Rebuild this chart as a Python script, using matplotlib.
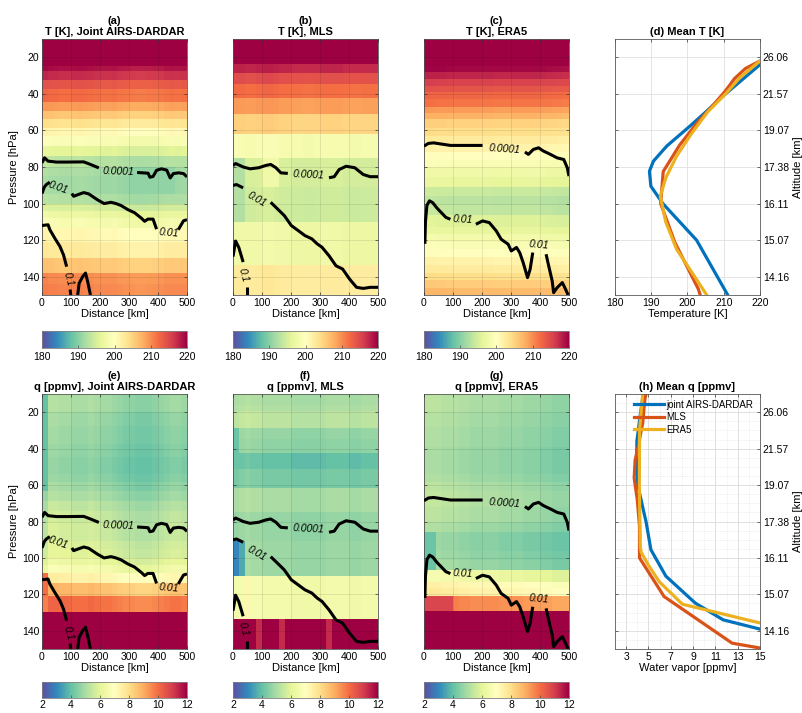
import numpy as np
import matplotlib
matplotlib.use("Agg")
import matplotlib.pyplot as plt
from matplotlib.ticker import MultipleLocator

plt.rcParams['font.family'] = ['Liberation Sans', 'DejaVu Sans']

# ---------------- data ----------------
distance_edges = list(range(0, 501, 20))          # km bins
pressure_ticks = [20, 40, 60, 80, 100, 120, 140]
altitude_labels = ['26.06', '21.57', '19.07', '17.38', '16.11', '15.07', '14.16']
T_cbar_ticks = [180, 190, 200, 210, 220]
q_cbar_ticks = [2, 4, 6, 8, 10, 12]

# Joint AIRS-DARDAR grid (hPa edges)
ad_p_edges = [10, 15, 20, 24.5, 27.5, 32.5, 37.5, 44.5, 49.5, 54, 58.5, 63, 68.5, 74,
              80, 85, 90.5, 95, 100, 104, 108, 113.5, 121, 129.5, 138, 144, 150]
ad_T_rows = [226, 224, 221.5, 219, 217, 214, 212, 209, 206, 203.5, 201, 199, 196,
             193, 192, 191.5, 191.5, 192.5, 195, 197, 198.5, 201, 202.5, 206, 210, 210.5]
ad_q_rows = [5.0, 5.0, 4.8, 4.8, 4.7, 4.7, 4.6, 4.5, 4.5, 4.6, 4.8, 5.0, 5.3,
             5.5, 5.6, 5.6, 5.8, 5.9, 6.2, 6.6, 7.4, 8.7, 10.0, 12.5, 14, 15]
ad_T_cols = [0.5, 0.3, 0.2, 0, 0, 0.2, 0.3, 0.1, 0, -0.2, -0.3, -0.3, -0.2, -0.5, -0.7,
             -0.9, -1.0, -1.0, -0.9, -0.8, -0.6, -0.3, -0.2, -0.3, -0.2]
ad_q_cols = [-0.3, 0.2, 0.2, 0.1, 0.1, 0, 0, 0, 0.1, 0, -0.1, -0.1, -0.2, -0.3, -0.4,
             -0.4, -0.5, -0.5, -0.5, -0.4, -0.3, -0.2, -0.1, -0.1, -0.2]
ad_T_patches = [(300, 460, 80, 95, 190.5)]
ad_q_patches = [(0, 20, 10, 63, 4.0), (0, 20, 108, 121, 10.0)]

# MLS levels (hPa)
mls_levels = [10, 12.1, 14.7, 17.8, 21.5, 26.1, 31.6, 38.3, 46.4, 56.2, 68.1, 82.5, 100, 121.2, 146.8]
mls_T_rows = [230, 228, 226, 223, 220.5, 217.5, 214.5, 212, 209, 205, 198.5, 195, 194.5, 197.5, 202.5]
mls_q_rows = [5.0, 5.0, 5.0, 5.1, 5.3, 5.3, 4.7, 4.6, 4.0, 4.3, 5.0, 4.7, 4.8, 6.5, 14]
mls_T_cols = [0.3, 0.2, 0, 0, 0.3, 0.5, 0.5, 0.3, 0, 0, -0.2, -0.2, -0.3, -0.3, -0.2,
              0, 0, 0, 0, -0.2, -0.3, -0.3, -0.2, -0.2, -0.2]
mls_q_cols = [0, 0.1, 0.2, 0.1, 0.1, 0, 0, 0, 0, 0, -0.1, -0.1, -0.1, -0.1, -0.1,
              -0.1, 0, 0, 0, 0, -0.1, -0.1, 0, 0, 0]
mls_T_patches = [(0, 40, 75, 110, 192.5), (100, 160, 75, 91, 197.5)]
mls_q_patches = [(0, 20, 91, 110, 3.0), (20, 40, 91, 110, 3.6), (0, 20, 28, 51, 4.1),
                 (40, 60, 110, 134, 7.3), (80, 100, 134, 150, 11.3),
                 (160, 180, 134, 150, 11.3), (320, 340, 134, 150, 11.3)]

# ERA5 grid (hPa edges)
era_p_edges = [10, 15, 20, 25, 28, 32, 35.5, 39, 43, 47, 50.5, 54, 58.5, 63, 67.5, 72, 76,
               80, 85.5, 91, 96, 101, 106.5, 113, 116.5, 121, 125, 129, 133.5, 138, 142, 146, 150]
era_T_rows = [226, 224, 221.5, 219.5, 217.5, 215.5, 214, 212.5, 211.5, 209, 207.5, 205, 204,
              202.5, 201.5, 200, 199, 197.5, 196.5, 194, 193, 193.5, 195.5, 196.5, 198, 199,
              200, 201.5, 202.5, 204, 205.5, 207]
era_q_rows = [5.0, 5.0, 4.9, 4.9, 4.8, 4.8, 4.8, 4.7, 4.7, 4.7, 4.7, 4.8, 5.0, 5.1, 5.1, 5.0,
              5.0, 4.8, 4.5, 4.5, 4.6, 4.7, 6.3, 7.2, 7.4, 9.5, 9.5, 13, 14, 14, 15, 15]
era_T_cols = [0.3, 0.3, 0.2, 0.2, 0.1, 0, 0, 0, 0, 0, 0, 0, -0.1, -0.1, -0.1, 0, 0, 0, 0, 0,
              -0.1, -0.2, -0.3, -0.4, -0.5]
era_q_cols = [0.3, 0.3, 0.3, 0.2, 0.2, 0.2, 0.1, 0.1, 0, 0, 0, 0, 0, -0.1, -0.1, -0.1, -0.1,
              -0.2, -0.2, -0.2, -0.3, -0.3, -0.4, -0.4, -0.4]
era_T_patches = []
era_q_patches = [(0, 40, 85, 107, 4.1), (0, 100, 121, 129, 10.8)]

# contour lines (distance km, pressure hPa)
ad_c4_a = [(0, 77.7), (9, 75), (21, 76.8), (50, 77.3), (85, 77.3), (144, 77.2), (167, 78.6), (196, 80.5)]
ad_c4_b = [(328, 83), (366, 83.4), (372, 85.6), (383, 85.2), (395, 81.8), (412, 81), (430, 81.7),
           (442, 86), (453, 83.6), (471, 83.2), (488, 83.6), (500, 85.4)]
ad_c2_a = [(0, 94.5), (8, 91), (15, 89.6), (27, 88.3)]
ad_c2_b = [(103, 94.5), (109, 96), (126, 95), (144, 94), (161, 94.7), (190, 97.8), (214, 100),
           (238, 99.3), (255, 100), (272, 101), (296, 103.3), (319, 105), (342, 107.9),
           (354, 109.7), (365, 108.5), (383, 108.5), (395, 114)]
ad_c2_c = [(470, 114.3), (488, 109.4), (500, 108.8)]
ad_c1_a = [(0, 112), (21, 111.6), (27, 114.3), (44, 118.9), (62, 123.5), (74, 128), (85, 134.5)]
ad_c1_b = [(97, 147), (99, 150)]
ad_c1_c = [(123, 150), (128, 143.6), (140, 140), (150, 138), (158, 143), (167, 150)]
ad_lines = [ad_c4_a, ad_c4_b, ad_c2_a, ad_c2_b, ad_c2_c, ad_c1_a, ad_c1_b, ad_c1_c]
ad_labels = [('0.0001', 263, 82.3, -2), ('0.01', 56, 91.5, -20), ('0.01', 436, 116.2, -5), ('0.1', 89, 141.5, -75)]

mls_c4_a = [(0, 79.2), (9, 78.1), (35, 80), (59, 81), (89, 80.4), (112, 79.2), (130, 78.6),
            (148, 80.4), (165, 83.2), (189, 83.5)]
mls_c4_b = [(331, 85.9), (349, 85.3), (366, 81.4), (390, 79.6), (420, 80.4), (449, 84.1),
            (473, 85.3), (500, 85.3)]
mls_c2_a = [(0, 90.1), (12, 89.6), (35, 91.4)]
mls_c2_b = [(130, 99.3), (154, 103), (177, 106.6), (201, 112), (225, 114.8), (248, 117.5),
            (272, 119.3), (290, 122), (307, 123.9), (331, 128.5), (355, 134), (378, 135.8),
            (402, 141.3), (426, 145.8), (449, 146.4), (473, 145.8), (500, 145.8)]
mls_c1_a = [(0, 129), (9, 120.5), (20, 124), (35, 132)]
mls_c1_b = [(47, 145.8), (47, 150)]
mls_lines = [mls_c4_a, mls_c4_b, mls_c2_a, mls_c2_b, mls_c1_a, mls_c1_b]
mls_labels = [('0.0001', 260, 84.1, -3), ('0.01', 83, 97.8, -30), ('0.1', 35, 138.9, -75)]

era_c4_a = [(0, 68.6), (15, 67.1), (33, 66.8), (91, 68.2), (150, 68.2), (202, 68.2)]
era_c4_b = [(348, 71.8), (360, 73.1), (377, 70.4), (395, 69.5), (412, 71.3), (436, 73.1),
            (459, 75), (482, 75.9), (494, 80.4), (500, 85)]
era_c2_a = [(3, 122), (5, 110), (10, 101), (19, 98.5), (30, 99.5), (45, 102.5), (60, 105),
            (75, 107.5), (91, 108.6)]
era_c2_b = [(179, 111.3), (202, 109.5), (225, 110.4), (249, 114.9), (266, 119.5), (290, 122.2),
            (301, 125.9), (319, 124), (330, 126.8), (342, 132.3), (357, 140.5), (366, 135.9),
            (375, 126.8)]
era_c2_c = [(421, 127.7), (430, 134.1), (442, 142.3), (447, 148.7), (459, 146), (477, 143.2),
            (488, 146.8), (497, 150)]
era_lines = [era_c4_a, era_c4_b, era_c2_a, era_c2_b, era_c2_c]
era_labels = [('0.0001', 276, 70.1, -4), ('0.01', 135, 108.8, -3), ('0.01', 397, 122.5, -5)]

# mean profiles
mean_T_ad_p = [18, 24, 41, 50, 57.6, 68.5, 76.8, 82.3, 90.5, 100, 120, 150]
mean_T_ad = [224, 220, 209.9, 205, 200.7, 194.3, 190.6, 189.5, 189.9, 193.2, 202.5, 211.1]
mean_T_mls_p = [15, 21.5, 26.1, 31.6, 38.3, 46.4, 56.2, 68.1, 82.5, 100, 121.2, 146.8, 150]
mean_T_mls = [226, 220.5, 216, 213, 210.5, 207, 202.5, 197.8, 193.3, 192.6, 196.5, 203, 203.5]
mean_T_era_p = [15, 22, 31, 40, 50, 62, 74, 86, 96, 110, 125, 150]
mean_T_era = [226, 220, 214.5, 210.5, 205.5, 201, 197, 194, 192.5, 194, 197, 205.3]

mean_q_ad_p = [10, 20, 36, 48, 60, 74.5, 80, 95.5, 110, 124.8, 134, 140]
mean_q_ad = [4.54, 4.3, 3.96, 3.95, 4.04, 4.57, 4.78, 5.22, 6.56, 9.2, 11.7, 15.6]
mean_q_mls_p = [10, 12.1, 14.7, 17.8, 21.5, 26.1, 31.6, 38.3, 46.4, 56.2, 68.1, 82.5, 100, 121.2, 146.8, 150]
mean_q_mls = [4.78, 4.7, 4.65, 4.6, 4.55, 4.48, 4.3, 4.1, 3.8, 3.72, 4.0, 4.2, 4.2, 6.4, 12.5, 15.5]
mean_q_era_p = [10, 30, 60, 94, 97, 104, 113, 125.4, 136]
mean_q_era = [4.48, 4.2, 4.18, 4.27, 4.35, 5.0, 5.96, 8.04, 15.2]

C_BLUE, C_ORANGE, C_YELLOW = '#0072BD', '#D95319', '#EDB120'

# ---------------- helpers ----------------
W, H = 803, 713
fig = plt.figure(figsize=(W / 100, H / 100), dpi=100)


def rect(x0, y0, x1, y1):
    return [x0 / W, 1 - y1 / H, (x1 - x0) / W, (y1 - y0) / H]


def mls_edges(levels):
    lv = np.array(levels, float)
    mids = np.sqrt(lv[:-1] * lv[1:])
    return np.concatenate([[10], mids, [150]])


def build_field(p_edges, rows, cols, patches):
    p_edges = np.asarray(p_edges, float)
    d_edges = np.asarray(distance_edges, float)
    C = np.asarray(rows, float)[:, None] + np.asarray(cols, float)[None, :]
    pc = 0.5 * (p_edges[:-1] + p_edges[1:])
    dc = 0.5 * (d_edges[:-1] + d_edges[1:])
    for d0, d1, p0, p1, v in patches:
        m = ((pc >= p0) & (pc <= p1))[:, None] & ((dc >= d0) & (dc <= d1))[None, :]
        C[m] = v
    return C


SP_COL = '0.35'


def style_box(ax):
    for s in ax.spines.values():
        s.set_color(SP_COL)
        s.set_linewidth(0.6)
    ax.tick_params(direction='in', length=2.5, width=0.5, color='0.2',
                   labelsize=7.5, top=True, right=True, pad=2)


def heat_panel(ax, p_edges, C, vmin, vmax, lines, labels, title, ylabel, xlabel=True):
    m = ax.pcolormesh(distance_edges, p_edges, C, cmap='Spectral_r', vmin=vmin, vmax=vmax,
                      shading='flat', rasterized=True)
    for seg in lines:
        d = [a for a, b in seg]
        p = [b for a, b in seg]
        ax.plot(d, p, color='k', lw=2.2, solid_capstyle='butt', zorder=4)
    for txt, d, p, r in labels:
        ax.text(d, p, txt, rotation=r, ha='center', va='center', fontsize=7.5,
                style='italic', rotation_mode='anchor', zorder=5)
    ax.set_xlim(0, 500)
    ax.set_ylim(150, 10)
    ax.set_xticks([0, 100, 200, 300, 400, 500])
    ax.set_yticks(pressure_ticks)
    ax.grid(True, color='k', alpha=0.12, lw=0.5)
    ax.set_axisbelow(False)
    style_box(ax)
    if ylabel:
        ax.set_ylabel('Pressure [hPa]', fontsize=8, labelpad=2)
    else:
        ax.tick_params(labelleft=False)
    if xlabel:
        ax.set_xlabel('Distance [km]', fontsize=8, labelpad=1)
    ax.set_title(title, fontsize=8, fontweight='bold', pad=3, linespacing=1.15)
    return m


def add_cbar(mappable, r, ticks, pad=3):
    cax = fig.add_axes(r)
    cb = fig.colorbar(mappable, cax=cax, orientation='horizontal', ticks=ticks)
    cb.outline.set_edgecolor('0.5')
    cb.outline.set_linewidth(0.6)
    cax.tick_params(direction='in', length=2.5, width=0.5, labelsize=7.5, pad=pad, color='0.3')
    return cb


cols_x = [42, 233, 424, 615]
AXW = 145
TOP = (39, 295)
BOT = (394, 649)
CB_TOP = (331, 348)
CB_BOT = (682, 698)

# ---------------- top row: temperature ----------------
T_fields = [
    (ad_p_edges, build_field(ad_p_edges, ad_T_rows, ad_T_cols, ad_T_patches), ad_lines, ad_labels,
     '(a)\nT [K], Joint AIRS-DARDAR'),
    (mls_edges(mls_levels), build_field(mls_edges(mls_levels), mls_T_rows, mls_T_cols, mls_T_patches),
     mls_lines, mls_labels, '(b)\nT [K], MLS'),
    (era_p_edges, build_field(era_p_edges, era_T_rows, era_T_cols, era_T_patches), era_lines, era_labels,
     '(c)\nT [K], ERA5'),
]
for i, (pe, C, ln, lb, tt) in enumerate(T_fields):
    x0 = cols_x[i]
    ax = fig.add_axes(rect(x0, TOP[0], x0 + AXW, TOP[1]))
    m = heat_panel(ax, pe, C, 180, 220, ln, lb, tt, ylabel=(i == 0))
    add_cbar(m, rect(x0, CB_TOP[0], x0 + AXW, CB_TOP[1]), T_cbar_ticks)

q_fields = [
    (ad_p_edges, build_field(ad_p_edges, ad_q_rows, ad_q_cols, ad_q_patches), ad_lines, ad_labels,
     '(e)\nq [ppmv], Joint AIRS-DARDAR'),
    (mls_edges(mls_levels), build_field(mls_edges(mls_levels), mls_q_rows, mls_q_cols, mls_q_patches),
     mls_lines, mls_labels, '(f)\nq [ppmv], MLS'),
    (era_p_edges, build_field(era_p_edges, era_q_rows, era_q_cols, era_q_patches), era_lines, era_labels,
     '(g)\nq [ppmv], ERA5'),
]
for i, (pe, C, ln, lb, tt) in enumerate(q_fields):
    x0 = cols_x[i]
    ax = fig.add_axes(rect(x0, BOT[0], x0 + AXW, BOT[1]))
    m = heat_panel(ax, pe, C, 2, 12, ln, lb, tt, ylabel=(i == 0))
    add_cbar(m, rect(x0, CB_BOT[0], x0 + AXW, CB_BOT[1]), q_cbar_ticks, pad=1.5)


# ---------------- profile panels ----------------
def profile_axes(r):
    ax = fig.add_axes(r)
    ax.set_ylim(150, 10)
    ax.set_yticks(pressure_ticks)
    ax.set_yticklabels(altitude_labels)
    style_box(ax)
    ax.tick_params(labelleft=False, labelright=True)
    ax.yaxis.set_label_position('right')
    ax.set_ylabel('Altitude [km]', fontsize=8, labelpad=3)
    return ax


x0 = cols_x[3]
axd = profile_axes(rect(x0, TOP[0], x0 + AXW, TOP[1]))
axd.plot(mean_T_ad, mean_T_ad_p, color=C_BLUE, lw=2.3, label='joint AIRS-DARDAR')
axd.plot(mean_T_mls, mean_T_mls_p, color=C_ORANGE, lw=2.3, label='MLS')
axd.plot(mean_T_era, mean_T_era_p, color=C_YELLOW, lw=2.3, label='ERA5')
axd.set_xlim(180, 220)
axd.set_xticks([180, 190, 200, 210, 220])
axd.grid(True, color='0.88', lw=0.6)
axd.set_axisbelow(True)
axd.set_xlabel('Temperature [K]', fontsize=8, labelpad=1)
axd.set_title('(d) Mean T [K]', fontsize=8, fontweight='bold', pad=3)

axh = profile_axes(rect(x0, BOT[0], x0 + AXW, BOT[1]))
axh.plot(mean_q_ad, mean_q_ad_p, color=C_BLUE, lw=2.3, label='joint AIRS-DARDAR')
axh.plot(mean_q_mls, mean_q_mls_p, color=C_ORANGE, lw=2.3, label='MLS')
axh.plot(mean_q_era, mean_q_era_p, color=C_YELLOW, lw=2.3, label='ERA5')
axh.set_xlim(2, 15)
axh.set_xticks([3, 5, 7, 9, 11, 13, 15])
axh.xaxis.set_minor_locator(MultipleLocator(1))
axh.yaxis.set_minor_locator(MultipleLocator(5))
axh.tick_params(which='minor', length=0)
axh.grid(True, which='major', color='0.86', lw=0.6)
axh.grid(True, which='minor', color='0.88', lw=0.5, ls=':')
axh.set_axisbelow(True)
axh.set_xlabel('Water vapor [ppmv]', fontsize=8, labelpad=1)
axh.set_title('(h) Mean q [ppmv]', fontsize=8, fontweight='bold', pad=3)
leg = axh.legend(loc='upper left', bbox_to_anchor=(0.12, 0.985), frameon=False, fontsize=7,
                 handlelength=3.0, handletextpad=0.3, labelspacing=0.25, borderaxespad=0,
                 borderpad=0.2)
for lh in leg.get_lines():
    lh.set_linewidth(2.3)

fig.savefig('out.png', dpi=100)
